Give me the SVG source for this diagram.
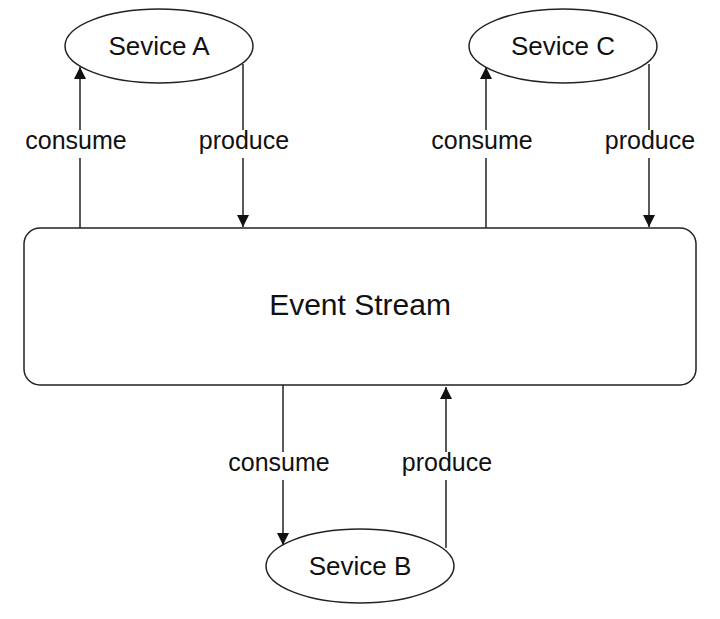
<svg xmlns="http://www.w3.org/2000/svg" width="720" height="619" viewBox="0 0 720 619">
<style>
.shape{fill:#fff;stroke:#222;stroke-width:1.5}
.conn{stroke:#222;stroke-width:1.5;fill:none}
.t{font-family:"Liberation Sans",Arial,sans-serif;fill:#111;text-anchor:middle}
.lbl{font-size:25px}
.svc{font-size:26px}
.bg{fill:#fff;stroke:none}
</style>
<defs>
<marker id="ah" viewBox="0 0 12 12" refX="12" refY="6" markerWidth="12" markerHeight="12" markerUnits="userSpaceOnUse" orient="auto">
<path d="M0,0 L12,6 L0,12 z" fill="#111"/>
</marker>
</defs>
<g id="event-stream">
<rect class="shape" x="24" y="228" width="672" height="157" rx="16" ry="16"/>
<text class="t" x="360" y="315" font-size="30">Event Stream</text>
</g>
<g id="service-a">
<ellipse class="shape" cx="159" cy="46" rx="94" ry="37"/>
<text class="t svc" x="159" y="55">Sevice A</text>
</g>
<g id="service-c">
<ellipse class="shape" cx="563" cy="46" rx="94" ry="37"/>
<text class="t svc" x="563" y="55">Sevice C</text>
</g>
<g id="service-b">
<ellipse class="shape" cx="360" cy="566" rx="94" ry="37"/>
<text class="t svc" x="360" y="575">Sevice B</text>
</g>
<g id="connectors">
<path class="conn" d="M80,228 L80,67" marker-end="url(#ah)"/>
<path class="conn" d="M243,64 L243,227" marker-end="url(#ah)"/>
<path class="conn" d="M486,228 L486,67" marker-end="url(#ah)"/>
<path class="conn" d="M649,64 L649,227" marker-end="url(#ah)"/>
<path class="conn" d="M283,385 L283,545" marker-end="url(#ah)"/>
<path class="conn" d="M446,548 L446,387" marker-end="url(#ah)"/>
<rect class="bg" x="24" y="130" width="106" height="28"/>
<text class="t lbl" x="76" y="149">consume</text>
<rect class="bg" x="198" y="130" width="92" height="28"/>
<text class="t lbl" x="244" y="149">produce</text>
<rect class="bg" x="430" y="130" width="106" height="28"/>
<text class="t lbl" x="482" y="149">consume</text>
<rect class="bg" x="604" y="130" width="92" height="28"/>
<text class="t lbl" x="650" y="149">produce</text>
<rect class="bg" x="226" y="452" width="106" height="28"/>
<text class="t lbl" x="279" y="471">consume</text>
<rect class="bg" x="401" y="452" width="92" height="28"/>
<text class="t lbl" x="447" y="471">produce</text>
</g>
</svg>
